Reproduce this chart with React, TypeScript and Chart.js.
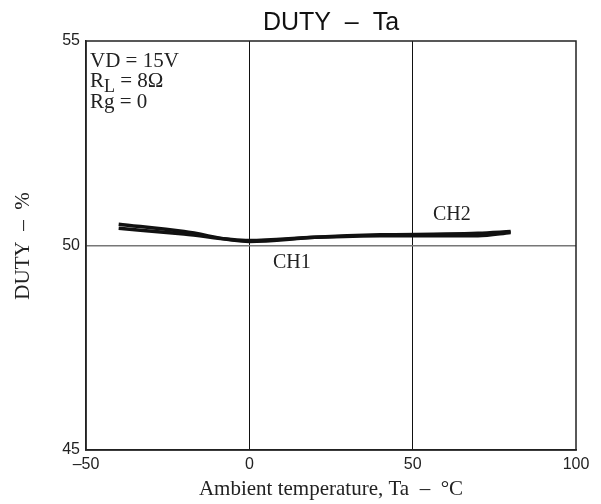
import React, { useEffect, useRef } from "react";
import { Chart, registerables } from "chart.js";

Chart.register(...registerables);

const ch1X = [-40, -20, 0, 20, 40, 60, 70, 80];
const ch1Y = [50.42, 50.28, 50.12, 50.2, 50.24, 50.24, 50.24, 50.32];
const ch2X = [-40, -20, 0, 20, 40, 60, 70, 80];
const ch2Y = [50.52, 50.34, 50.1, 50.2, 50.26, 50.28, 50.3, 50.34];
const xTicks = [-50, 0, 50, 100];
const yTicks = [45, 50, 55];
const titleText = "DUTY  –  Ta";
const xTitle = "Ambient temperature, Ta  –  °C";
const yTitle = "DUTY  –  %";

const SERIF = "'Liberation Serif', 'Times New Roman', serif";
const SANS = "'Liberation Sans', Arial, sans-serif";

const textPlugin = {
  id: "texts",
  afterDraw(chart: any) {
    const { ctx, chartArea } = chart;
    const { left, right, top, bottom } = chartArea;
    const xs = chart.scales.x;
    const ys = chart.scales.y;
    ctx.save();
    // frame
    ctx.strokeStyle = "#222";
    ctx.lineWidth = 1.5;
    ctx.strokeRect(left, top, right - left, bottom - top);
    // title
    ctx.fillStyle = "#111";
    ctx.font = "25px " + SANS;
    ctx.textAlign = "center";
    ctx.textBaseline = "alphabetic";
    ctx.fillText(titleText, (left + right) / 2, 30);
    // x title
    ctx.font = "21px " + SERIF;
    ctx.fillStyle = "#222";
    ctx.fillText(xTitle, (left + right) / 2, 495);
    // y title
    ctx.save();
    ctx.translate(29, 246);
    ctx.rotate(-Math.PI / 2);
    ctx.fillText(yTitle, 0, 0);
    ctx.restore();
    // conditions
    ctx.textAlign = "left";
    ctx.font = "21px " + SERIF;
    ctx.fillText("VD = 15V", 90, 67);
    ctx.fillText("R", 90, 87);
    const rw = ctx.measureText("R").width;
    ctx.font = "18px " + SERIF;
    ctx.fillText("L", 90 + rw, 92);
    const lw = ctx.measureText("L").width;
    ctx.font = "21px " + SERIF;
    ctx.fillText(" = 8Ω", 90 + rw + lw, 87);
    ctx.fillText("Rg = 0", 90, 108);
    // series labels
    ctx.font = "20px " + SERIF;
    ctx.textAlign = "center";
    ctx.textBaseline = "middle";
    ctx.fillText("CH1", xs.getPixelForValue(13), ys.getPixelForValue(49.58));
    ctx.fillText("CH2", xs.getPixelForValue(62), ys.getPixelForValue(50.74));
    ctx.restore();
  },
};

export default function App() {
  const ref = useRef<HTMLCanvasElement>(null);
  useEffect(() => {
    document.body.style.margin = "0";
    const chart = new Chart(ref.current!, {
      type: "line",
      data: {
        datasets: [
          {
            label: "CH1",
            data: ch1X.map((x, i) => ({ x, y: ch1Y[i] })),
            borderColor: "#111",
            borderWidth: 3.5,
            pointRadius: 0,
            cubicInterpolationMode: "monotone",
            fill: false,
          },
          {
            label: "CH2",
            data: ch2X.map((x, i) => ({ x, y: ch2Y[i] })),
            borderColor: "#111",
            borderWidth: 3.5,
            pointRadius: 0,
            cubicInterpolationMode: "monotone",
            fill: false,
          },
        ],
      },
      options: {
        animation: false,
        responsive: false,
        devicePixelRatio: 1,
        layout: { padding: { top: 41, right: 25, left: 0, bottom: 0 } },
        plugins: { legend: { display: false }, tooltip: { enabled: false }, title: { display: false } },
        scales: {
          x: {
            type: "linear",
            min: -50,
            max: 100,
            afterBuildTicks: (s: any) => {
              s.ticks = xTicks.map((v) => ({ value: v }));
            },
            afterFit: (s: any) => {
              s.height = 54;
            },
            ticks: {
              padding: 5,
              color: "#222",
              font: { size: 16, family: SANS },
              callback: (v: any) => String(v).replace("-", "–"),
              maxRotation: 0,
            },
            grid: {
              drawTicks: false,
              color: (c: any) => (c.tick && (c.tick.value === 0 || c.tick.value === 50) ? "#111" : "rgba(0,0,0,0)"),
              lineWidth: 1,
            },
            border: { display: true, color: "#222", width: 1.5 },
          },
          y: {
            type: "linear",
            min: 45,
            max: 55,
            afterBuildTicks: (s: any) => {
              s.ticks = yTicks.map((v) => ({ value: v }));
            },
            afterFit: (s: any) => {
              s.width = 86;
            },
            ticks: {
              padding: 6,
              color: "#222",
              font: { size: 16, family: SANS },
            },
            grid: {
              drawTicks: false,
              color: (c: any) => (c.tick && c.tick.value === 50 ? "#777" : "rgba(0,0,0,0)"),
              lineWidth: 1.5,
            },
            border: { display: true, color: "#222", width: 1.5 },
          },
        },
      },
      plugins: [textPlugin],
    } as any);
    return () => chart.destroy();
  }, []);
  return (
    <div style={{ width: 601, height: 504, background: "#fff" }}>
      <canvas ref={ref} width={601} height={504} style={{ display: "block" }} />
    </div>
  );
}
